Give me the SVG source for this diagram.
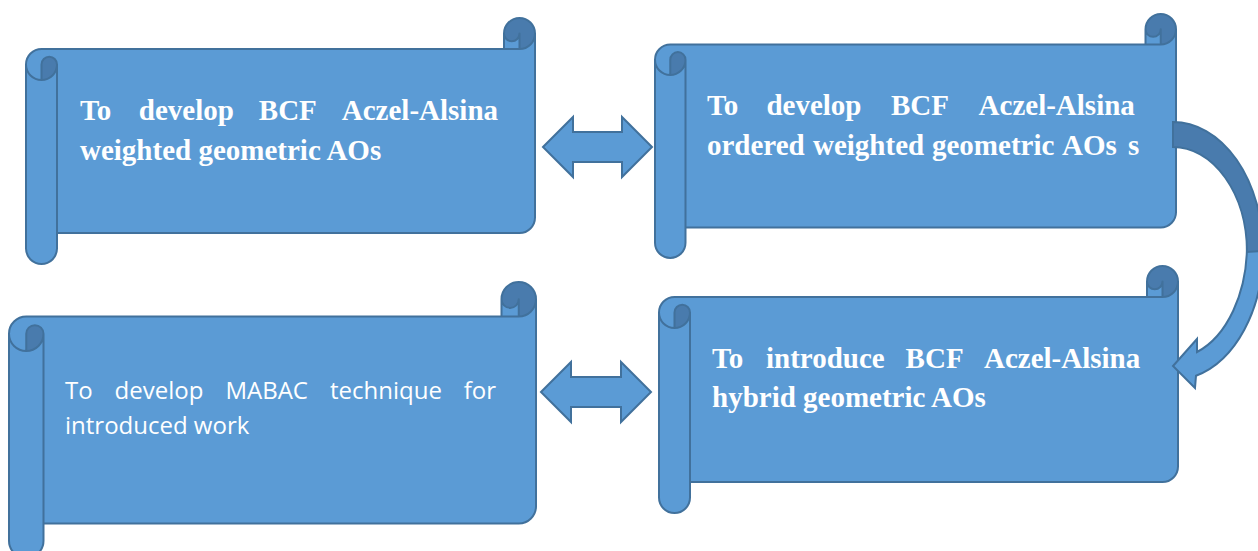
<svg xmlns="http://www.w3.org/2000/svg" width="1258" height="551" viewBox="0 0 1258 551">
<defs>
<style>
.fill{fill:#5B9BD5;stroke:none}
.dark{fill:#497BAD;stroke:none}
.line{fill:none;stroke:#41719C;stroke-width:2;stroke-linejoin:round}
.arrow{fill:#5B9BD5;stroke:#41719C;stroke-width:2;stroke-linejoin:miter}
.back{fill:#497BAD;stroke:#41719C;stroke-width:2;stroke-linejoin:miter}
.serif{font-family:"Liberation Serif","Times New Roman",serif;font-weight:bold;font-size:29px;fill:#FFFFFF}
.sans{font-family:"Open Sans","Noto Sans",sans-serif;font-size:24px;fill:#FFFFFF}
</style>
</defs>
<rect width="1258" height="551" fill="#FFFFFF"/>

<g id="node-wga">
<path class="fill" d="M535,33.5 A15.5,15.5 0 0 1 519.5,49 L519.5,33.5 A7.75,7.75 0 0 1 504,33.5 L504,49 L41.5,49 A15.5,15.5 0 0 0 26,64.5 L26,248.5 A15.5,15.5 0 0 0 57,248.5 L57,233 L519.5,233 A15.5,15.5 0 0 0 535,217.5 Z"/>
<path class="dark" d="M41.5,80 A15.5,15.5 0 0 0 57,64.5 A7.75,7.75 0 0 0 41.5,64.5 Z M519.5,49 A15.5,15.5 0 1 0 504,33.5 A7.75,7.75 0 0 0 519.5,33.5 Z"/>
<path class="line" d="M26,64.5 A15.5,15.5 0 0 1 41.5,49 L504,49 L504,33.5 A15.5,15.5 0 0 1 535,33.5 L535,217.5 A15.5,15.5 0 0 1 519.5,233 L57,233 L57,248.5 A15.5,15.5 0 0 1 26,248.5 Z M504,49 L519.5,49 A15.5,15.5 0 0 0 535,33.5 M519.5,49 L519.5,33.5 A7.75,7.75 0 0 1 504,33.5 M41.5,80 L41.5,64.5 A7.75,7.75 0 0 1 57,64.5 A15.5,15.5 0 0 1 26,64.5 M57,64.5 L57,233"/>
<text class="serif" y="120"><tspan x="80">To</tspan><tspan x="138.8">develop</tspan><tspan x="258.8">BCF</tspan><tspan x="341.8">Aczel-Alsina</tspan></text>
<text class="serif" x="80" y="160">weighted geometric AOs</text>
</g>

<g id="node-owga">
<path class="fill" d="M1176,29.25 A15.25,15.25 0 0 1 1160.75,44.5 L1160.75,29.25 A7.625,7.625 0 0 1 1145.5,29.25 L1145.5,44.5 L670.25,44.5 A15.25,15.25 0 0 0 655,59.75 L655,242.75 A15.25,15.25 0 0 0 685.5,242.75 L685.5,227.5 L1160.75,227.5 A15.25,15.25 0 0 0 1176,212.25 Z"/>
<path class="dark" d="M670.25,75 A15.25,15.25 0 0 0 685.5,59.75 A7.625,7.625 0 0 0 670.25,59.75 Z M1160.75,44.5 A15.25,15.25 0 1 0 1145.5,29.25 A7.625,7.625 0 0 0 1160.75,29.25 Z"/>
<path class="line" d="M655,59.75 A15.25,15.25 0 0 1 670.25,44.5 L1145.5,44.5 L1145.5,29.25 A15.25,15.25 0 0 1 1176,29.25 L1176,212.25 A15.25,15.25 0 0 1 1160.75,227.5 L685.5,227.5 L685.5,242.75 A15.25,15.25 0 0 1 655,242.75 Z M1145.5,44.5 L1160.75,44.5 A15.25,15.25 0 0 0 1176,29.25 M1160.75,44.5 L1160.75,29.25 A7.625,7.625 0 0 1 1145.5,29.25 M670.25,75 L670.25,59.75 A7.625,7.625 0 0 1 685.5,59.75 A15.25,15.25 0 0 1 655,59.75 M685.5,59.75 L685.5,227.5"/>
<text class="serif" y="115"><tspan x="707">To</tspan><tspan x="766.4">develop</tspan><tspan x="891">BCF</tspan><tspan x="978.6">Aczel-Alsina</tspan></text>
<text class="serif" y="155"><tspan x="707">ordered</tspan><tspan x="813">weighted</tspan><tspan x="932">geometric</tspan><tspan x="1062">AOs</tspan><tspan x="1128">s</tspan></text>
</g>

<g id="node-mabac">
<path class="fill" d="M536,299.25 A17.25,17.25 0 0 1 518.75,316.5 L518.75,299.25 A8.625,8.625 0 0 1 501.5,299.25 L501.5,316.5 L26.25,316.5 A17.25,17.25 0 0 0 9,333.75 L9,540.75 A17.25,17.25 0 0 0 43.5,540.75 L43.5,523.5 L518.75,523.5 A17.25,17.25 0 0 0 536,506.25 Z"/>
<path class="dark" d="M26.25,351 A17.25,17.25 0 0 0 43.5,333.75 A8.625,8.625 0 0 0 26.25,333.75 Z M518.75,316.5 A17.25,17.25 0 1 0 501.5,299.25 A8.625,8.625 0 0 0 518.75,299.25 Z"/>
<path class="line" d="M9,333.75 A17.25,17.25 0 0 1 26.25,316.5 L501.5,316.5 L501.5,299.25 A17.25,17.25 0 0 1 536,299.25 L536,506.25 A17.25,17.25 0 0 1 518.75,523.5 L43.5,523.5 L43.5,540.75 A17.25,17.25 0 0 1 9,540.75 Z M501.5,316.5 L518.75,316.5 A17.25,17.25 0 0 0 536,299.25 M518.75,316.5 L518.75,299.25 A8.625,8.625 0 0 1 501.5,299.25 M26.25,351 L26.25,333.75 A8.625,8.625 0 0 1 43.5,333.75 A17.25,17.25 0 0 1 9,333.75 M43.5,333.75 L43.5,523.5"/>
<text class="sans" y="399"><tspan x="65">To</tspan><tspan x="114.6">develop</tspan><tspan x="225.4">MABAC</tspan><tspan x="330">technique</tspan><tspan x="463.7">for</tspan></text>
<text class="sans" x="65" y="434">introduced work</text>
</g>

<g id="node-hga">
<path class="fill" d="M1178,281.5 A15.5,15.5 0 0 1 1162.5,297 L1162.5,281.5 A7.75,7.75 0 0 1 1147,281.5 L1147,297 L674.5,297 A15.5,15.5 0 0 0 659,312.5 L659,497.5 A15.5,15.5 0 0 0 690,497.5 L690,482 L1162.5,482 A15.5,15.5 0 0 0 1178,466.5 Z"/>
<path class="dark" d="M674.5,328 A15.5,15.5 0 0 0 690,312.5 A7.75,7.75 0 0 0 674.5,312.5 Z M1162.5,297 A15.5,15.5 0 1 0 1147,281.5 A7.75,7.75 0 0 0 1162.5,281.5 Z"/>
<path class="line" d="M659,312.5 A15.5,15.5 0 0 1 674.5,297 L1147,297 L1147,281.5 A15.5,15.5 0 0 1 1178,281.5 L1178,466.5 A15.5,15.5 0 0 1 1162.5,482 L690,482 L690,497.5 A15.5,15.5 0 0 1 659,497.5 Z M1147,297 L1162.5,297 A15.5,15.5 0 0 0 1178,281.5 M1162.5,297 L1162.5,281.5 A7.75,7.75 0 0 1 1147,281.5 M674.5,328 L674.5,312.5 A7.75,7.75 0 0 1 690,312.5 A15.5,15.5 0 0 1 659,312.5 M690,312.5 L690,482"/>
<text class="serif" y="368"><tspan x="712">To</tspan><tspan x="766">introduce</tspan><tspan x="905.6">BCF</tspan><tspan x="984">Aczel-Alsina</tspan></text>
<text class="serif" x="712" y="407">hybrid geometric AOs</text>
</g>

<g id="connectors">
<path class="arrow" d="M543,147 L573,117 L573,132 L622,132 L622,117 L652,147 L622,177 L622,162 L573,162 L573,177 Z"/>
<path class="arrow" d="M541,392 L571,362 L571,377 L621,377 L621,362 L651,392 L621,422 L621,407 L571,407 L571,422 Z"/>
<path class="arrow" d="M1263,251 A90,129 0 0 1 1196,375.7 L1195,388 L1173,366 L1197,339 L1197,352 A74,113 0 0 0 1247,245 Z"/>
<path class="back" d="M1173,122 A90,129 0 0 1 1263,251 L1247,252 A74,105 0 0 0 1173,147 Z"/>
</g>
</svg>
